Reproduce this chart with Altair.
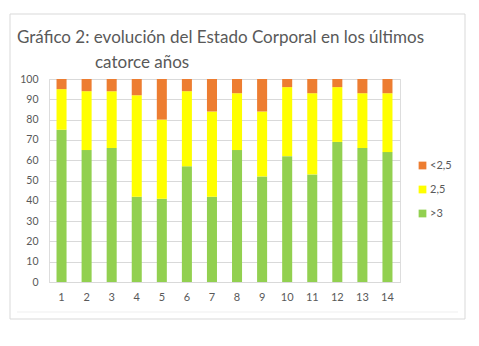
import altair as alt
import pandas as pd

years = list(range(1, 15))
gt3 = [75, 65, 66, 42, 41, 57, 42, 65, 52, 62, 53, 69, 66, 64]
v25 = [20, 29, 28, 50, 39, 37, 42, 28, 32, 34, 40, 27, 27, 29]
lt25 = [5, 6, 6, 8, 20, 6, 16, 7, 16, 4, 7, 4, 7, 7]

series = ["<2,5", "2,5", ">3"]
colors = ["#ED7D31", "#FFFF00", "#92D050"]
title1 = "Gráfico 2: evolución del Estado Corporal en los últimos"
title2 = "catorce años"

rows = []
for i, y in enumerate(years):
    rows.append({"year": y, "serie": ">3", "val": gt3[i], "ord": 0})
    rows.append({"year": y, "serie": "2,5", "val": v25[i], "ord": 1})
    rows.append({"year": y, "serie": "<2,5", "val": lt25[i], "ord": 2})
df = pd.DataFrame(rows)

FONT = "Lato"
GRAY = "#595959"

bars = alt.Chart(df).mark_bar().encode(
    x=alt.X("year:O", title=None,
            scale=alt.Scale(paddingInner=0.6, paddingOuter=0.3),
            axis=alt.Axis(labelAngle=0, ticks=False, domainColor="#D9D9D9",
                          labelColor=GRAY, labelFontSize=11, labelFont=FONT,
                          labelPadding=9)),
    y=alt.Y("val:Q", stack="zero", title=None,
            scale=alt.Scale(domain=[0, 100]),
            axis=alt.Axis(values=list(range(0, 101, 10)), ticks=False, domain=False,
                          gridColor="#D9D9D9", labelColor=GRAY, labelFontSize=10.5,
                          labelFont=FONT, labelPadding=11)),
    color=alt.Color("serie:N", scale=alt.Scale(domain=series, range=colors),
                    legend=alt.Legend(title=None, orient="none", legendX=368, legendY=81,
                                      symbolType="square", symbolSize=60,
                                      symbolStrokeWidth=0, labelFont=FONT,
                                      labelFontSize=11, labelColor=GRAY,
                                      rowPadding=12, labelOffset=2)),
    order=alt.Order("ord:Q", sort="ascending"),
)

one = alt.Data(values=[{"a": 1}])

frame = alt.Chart(one).mark_rect(filled=False, stroke="#D9D9D9", strokeWidth=1).encode(
    x=alt.value(-39), x2=alt.value(416), y=alt.value(-65), y2=alt.value(240)
)
inner = alt.Chart(one).mark_rule(stroke="#EFEFEF").encode(
    x=alt.value(-32), x2=alt.value(409), y=alt.value(233)
)
t1 = alt.Chart(one).mark_text(text=title1, align="left", baseline="alphabetic",
                               font=FONT, fontSize=17, color=GRAY).encode(
    x=alt.value(-32), y=alt.value(-36)
)
t2 = alt.Chart(one).mark_text(text=title2, align="left", baseline="alphabetic",
                               font=FONT, fontSize=17, color=GRAY).encode(
    x=alt.value(46), y=alt.value(-11)
)

chart = alt.layer(frame, inner, bars, t1, t2).properties(
    width=351, height=203,
    autosize="none",
    padding={"left": 49, "top": 79, "right": 79, "bottom": 64},
).configure_view(stroke=None).configure(background="white")

chart.save("out.html", embed_options={"renderer": "svg", "actions": False})
